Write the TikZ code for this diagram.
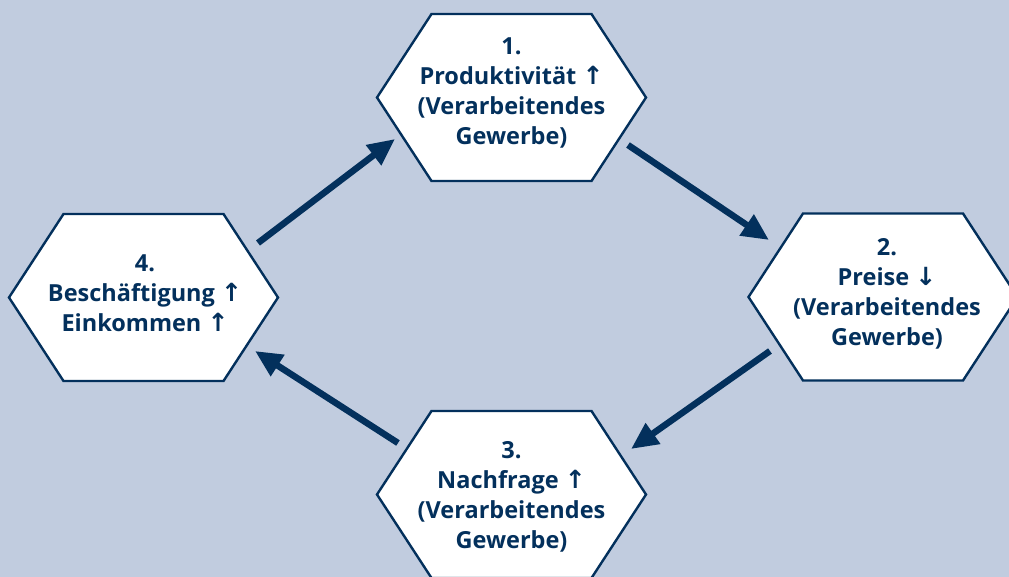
\documentclass[tikz,border=0pt]{standalone}
\usepackage{fontspec}
\setmainfont{Open Sans}
\newfontfamily\arrfont{DejaVu Sans}
\usetikzlibrary{arrows.meta}
\definecolor{bg}{HTML}{C1CCDF}
\definecolor{navy}{HTML}{03305C}
\newcommand{\ua}{{\arrfont\fontsize{25}{30}\selectfont ↑}}
\newcommand{\da}{{\arrfont\fontsize{25}{30}\selectfont ↓}}
\newcommand{\hexpath}[2]{%
  \draw[hexline] (#1-134.5,#2) -- (#1-80,#2-83.5) -- (#1+80,#2-83.5) -- (#1+134.5,#2) -- (#1+80,#2+83.5) -- (#1-80,#2+83.5) -- cycle;}
\tikzset{
  hexline/.style={draw=navy, fill=white, line width=2.4pt, line join=miter},
  lbl/.style={text=navy, font=\bfseries\fontsize{23.5}{30}\selectfont, align=center, inner sep=0pt},
  flow/.style={draw=navy, line width=6.5pt, -{Triangle[length=27pt,width=24pt]}, shorten >=0pt}
}
\begin{document}
\begin{tikzpicture}[x=1pt,y=-1pt]
\fill[bg] (0,0) rectangle (1009,577);
\useasboundingbox (0,0) rectangle (1009,577);
\begin{scope}
\clip (0,0) rectangle (1009,577);
\hexpath{511.5}{97.5}
\hexpath{883}{297}
\hexpath{511.5}{494.5}
\hexpath{143.5}{297.5}
\end{scope}
\node[lbl] (t1) at (511.5,93) {1.\\Produktivität \ua\\(Verarbeitendes\\Gewerbe)};
\node[lbl] (t2) at (887,294) {2.\\Preise \da\\(Verarbeitendes\\Gewerbe)};
\node[lbl] (t3) at (511.5,497) {3.\\Nachfrage \ua\\(Verarbeitendes\\Gewerbe)};
\node[lbl] (t4) at (145,293) {4.\\Beschäftigung \ua\\Einkommen \ua};
\coordinate (a1s) at (258,243); \coordinate (a1e) at (395,139);
\coordinate (a2s) at (628,145); \coordinate (a2e) at (769,240);
\coordinate (a3s) at (770,351); \coordinate (a3e) at (631,449);
\coordinate (a4s) at (398,443); \coordinate (a4e) at (255,351);
\draw[flow] (a1s) -- (a1e);
\draw[flow] (a2s) -- (a2e);
\draw[flow] (a3s) -- (a3e);
\draw[flow] (a4s) -- (a4e);
\end{tikzpicture}
\end{document}
